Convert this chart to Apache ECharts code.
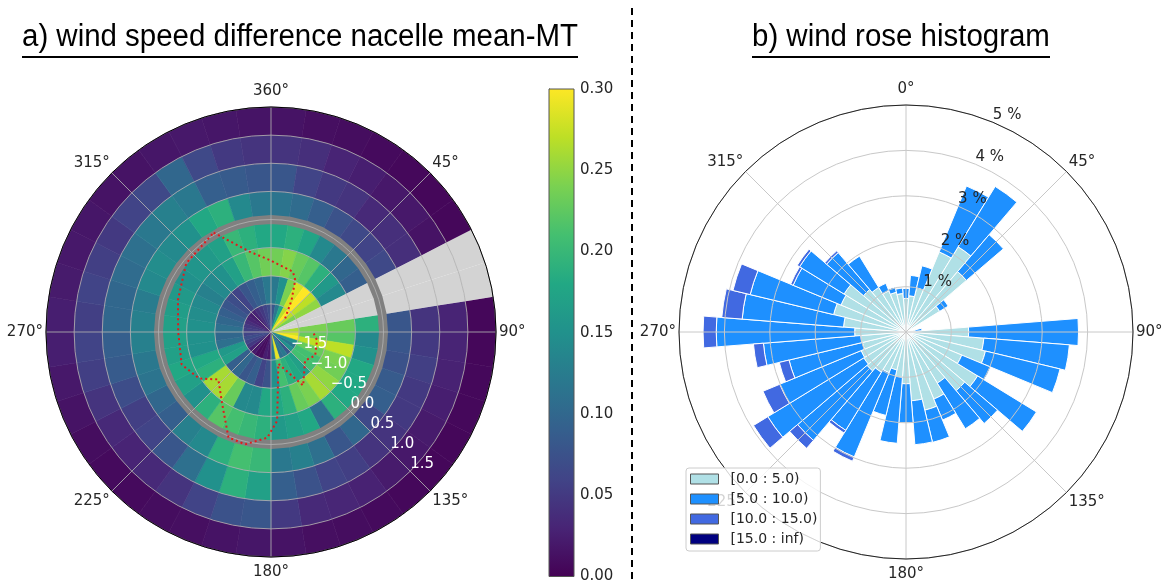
<!DOCTYPE html>
<html><head><meta charset="utf-8">
<script src="https://cdn.jsdelivr.net/npm/echarts@6/dist/echarts.min.js"></script>
<style>html,body{margin:0;padding:0;background:#fff}#c{width:1162px;height:584px}</style>
</head><body><div id="c"></div>
<script>
// ---------- data: panel a (polar heat map) ----------
const radialEdges = [-2, -1.5, -1, -0.5, 0, 0.5, 1, 1.5, 2];
const angleEdges = [0,9,18,27,36,45,54,63,72,81,90,99,108,117,126,135,144,153,162,171,180,189,198,207,216,225,234,243,252,261,270,279,288,297,306,315,324,333,342,351,360];
const ring0 = [0.08,0.12,0.18,0.27,0.30,0.27,0.24,null,null,0.26,0.28,0.30,0.15,0.12,0.15,0.08,0.12,0.11,0.29,0.12,0.02,0.025,0.01,0.01,0.02,0.03,0.05,0.06,0.07,0.06,0.055,0.05,0.04,0.03,0.025,0.03,0.04,0.05,0.06,0.07];
const ring1 = [0.12,0.15,0.24,0.28,0.30,0.27,0.25,null,null,0.24,0.23,0.27,0.23,0.21,0.21,0.17,0.18,0.19,0.21,0.15,0.075,0.06,0.09,0.08,0.10,0.09,0.17,0.16,0.11,0.10,0.11,0.10,0.09,0.08,0.07,0.06,0.08,0.09,0.10,0.12];
const ring2 = [0.235,0.245,0.23,0.22,0.19,0.16,0.14,null,null,0.23,0.22,0.27,0.24,0.235,0.25,0.26,0.24,0.23,0.19,0.18,0.18,0.14,0.14,0.23,0.26,0.26,0.19,0.18,0.15,0.15,0.15,0.145,0.14,0.13,0.14,0.15,0.17,0.20,0.22,0.235];
const ring3 = [0.18,0.19,0.175,0.14,0.12,0.10,0.09,null,null,0.19,0.14,0.15,0.18,0.18,0.18,0.19,0.11,0.18,0.17,0.16,0.19,0.20,0.21,0.22,0.19,0.15,0.17,0.18,0.17,0.17,0.17,0.165,0.16,0.15,0.155,0.16,0.17,0.20,0.19,0.18];
const ring4 = [0.115,0.105,0.09,0.075,0.065,0.06,0.065,null,null,0.08,0.08,0.075,0.085,0.09,0.065,0.10,0.08,0.11,0.13,0.12,0.20,0.21,0.19,0.14,0.13,0.09,0.10,0.115,0.12,0.13,0.13,0.125,0.14,0.145,0.14,0.15,0.18,0.19,0.14,0.12];
const ring5 = [0.08,0.06,0.05,0.045,0.035,0.04,0.04,null,null,0.045,0.05,0.055,0.05,0.05,0.045,0.045,0.055,0.06,0.075,0.09,0.17,0.19,0.15,0.11,0.08,0.06,0.055,0.07,0.085,0.09,0.10,0.10,0.105,0.11,0.12,0.13,0.12,0.09,0.085,0.08];
const ring6 = [0.045,0.04,0.03,0.025,0.02,0.02,0.015,null,null,0.03,0.03,0.028,0.025,0.022,0.02,0.022,0.028,0.032,0.035,0.05,0.08,0.075,0.06,0.045,0.035,0.03,0.035,0.045,0.055,0.06,0.055,0.06,0.055,0.05,0.06,0.065,0.10,0.065,0.05,0.045];
const ring7 = [0.015,0.012,0.01,0.008,0.006,0.005,0.005,null,null,0.005,0.005,0.006,0.006,0.005,0.005,0.006,0.008,0.01,0.012,0.015,0.018,0.015,0.012,0.01,0.008,0.008,0.01,0.015,0.02,0.025,0.025,0.022,0.02,0.018,0.015,0.015,0.018,0.02,0.018,0.016];
const rings = [ring0, ring1, ring2, ring3, ring4, ring5, ring6, ring7];
// red dotted contour (angle in degrees, radius in axis units); null = gap
const redTheta = [330,345,359,20,25,33,46,null,92,100,118,130,149,167,176,182,193,202,214,228,237,250,270,289,309,330];
const redR     = [0.04,-0.52,-0.72,-0.86,-0.98,-1.33,-1.65,null,-1.24,-1.17,-1.11,-1.21,-0.89,-1.42,-0.42,-0.12,0.05,0.02,-0.45,-0.74,-0.48,-0.31,-0.35,-0.25,-0.06,0.04];
const ringLevel = 0.0; // thick grey reference circle
const colorTicks = [0, 0.05, 0.10, 0.15, 0.20, 0.25, 0.30];

// ---------- data: panel b (wind rose, % per direction sector) ----------
const dirCenters = [0,9,18,27,36,45,54,63,72,81,90,99,108,117,126,135,144,153,162,171,180,189,198,207,216,225,234,243,252,261,270,279,288,297,306,315,324,333,342,351];
const ws0to5   = [0.74,0.80,1.00,1.91,2.20,1.75,0.87,0,0,0.20,1.38,1.72,1.80,1.33,1.85,1.70,1.32,1.60,1.77,1.52,1.14,1.00,0.86,0.97,1.04,1.13,1.09,1.07,0.99,1.00,1.13,1.38,1.64,1.55,1.60,1.23,1.15,0.98,0.90,0.85];
const ws5to10  = [0.22,0.45,0.50,1.57,1.56,1.07,0.22,0,0,0.15,2.42,1.89,1.69,0.69,1.52,0.95,1.18,0.50,0.73,0.97,0.86,1.46,1.03,2.01,1.50,2.01,2.48,1.94,1.66,2.15,3.05,2.24,1.89,1.14,1.15,1.07,0.81,0.18,0.12,0.12];
const ws10to15 = [0,0,0,0,0,0,0,0,0,0,0,0,0,0,0,0,0,0,0,0,0,0,0,0.10,0.07,0.23,0.37,0.40,0.22,0.22,0.29,0.45,0.39,0.06,0.06,0.05,0,0,0,0];
const ws15up   = [0,0,0,0,0,0,0,0,0,0,0,0,0,0,0,0,0,0,0,0,0,0,0,0,0,0,0,0,0,0,0,0,0,0,0,0,0,0,0,0];
const classNames = ['[0.0 : 5.0)', '[5.0 : 10.0)', '[10.0 : 15.0)', '[15.0 : inf)'];
const classValues = [ws0to5, ws5to10, ws10to15, ws15up];

// ---------- styles ----------
const viridis = ['#440154','#482475','#414487','#355f8d','#2a788e','#21918c','#22a884','#44bf70','#7ad151','#bddf26','#fde725'];
const classColors = ['#b0e0e6', '#1e90ff', '#4169e1', '#000080'];
const FONT = 'DejaVu Sans';
const SECTOR = 9;

// ---------- build series data ----------
const heatData = [], nanData = [];
rings.forEach((ring, k) => {
  ring.forEach((v, s) => {
    const item = [radialEdges[k], radialEdges[k + 1], angleEdges[s], angleEdges[s + 1], v];
    if (v === null) nanData.push(item.slice(0, 4)); else heatData.push(item);
  });
});
const redData = redTheta.map((t, i) => t === null ? ['-', '-'] : [redR[i], t]);
const ringData = angleEdges.map(a => [ringLevel, a]);

function sector(params, api, style) {
  const cs = params.coordSys;
  const cx = cs.cx, cy = cs.cy;
  const pA = api.coord([api.value(1), api.value(2)]);
  const pB = api.coord([api.value(1), api.value(3)]);
  const pC = api.coord([api.value(0), api.value(2)]);
  const R = Math.hypot(pA[0] - cx, pA[1] - cy);
  const R0 = Math.hypot(pC[0] - cx, pC[1] - cy);
  const s = Math.atan2(pA[1] - cy, pA[0] - cx);
  let e = Math.atan2(pB[1] - cy, pB[0] - cx);
  if (e <= s) e += Math.PI * 2;
  return { type: 'sector', shape: { cx, cy, r0: R0, r: R, startAngle: s, endAngle: e, clockwise: true }, style };
}

const roseSeries = classValues.map((vals, c) => {
  const data = vals.map((v, s) => {
    let base = 0;
    for (let j = 0; j < c; j++) base += classValues[j][s];
    const a0 = (dirCenters[s] - SECTOR / 2 + 360) % 360;
    const a1 = (dirCenters[s] + SECTOR / 2) % 360;
    return [base, base + v, a0, a1, v];
  }).filter(d => d[4] > 0);
  return {
    name: classNames[c], type: 'custom', coordinateSystem: 'polar', polarIndex: 2, z: 2,
    itemStyle: { color: classColors[c] },
    data,
    renderItem: (p, api) => sector(p, api, { fill: classColors[c], stroke: '#fff', lineWidth: 1 })
  };
});

const chart = echarts.init(document.getElementById('c'), null, { renderer: 'canvas' });
const lbl = { fontFamily: FONT, fontSize: 15, color: '#262626' };
const richBase = { fontFamily: FONT, fontSize: 15, color: '#262626' };
const angLbl = { fontFamily: FONT, fontSize: 15, color: '#262626', margin: 3,
  rich: { n: richBase, up: Object.assign({ padding: [0, 0, 5, 0] }, richBase), dn: Object.assign({ padding: [5, 0, 0, 0] }, richBase) } };
const angText = (v, shown) => {
  const key = (v === 0 || v === 360) ? 'up' : (v === 180 ? 'dn' : 'n');
  return '{' + key + '|' + shown + '°}';
};
const gridCol = 'rgba(176,176,176,0.85)';

const option = {
  animation: false,
  backgroundColor: '#fff',
  polar: [
    { center: [271, 332], radius: 225 },
    { center: [271, 332], radius: 225 },
    { center: [906, 332], radius: 227 },
    { center: [906, 332], radius: 227 }
  ],
  angleAxis: [
    { polarIndex: 0, type: 'value', min: 0, max: 360, interval: 45, startAngle: 90, clockwise: true, z: 5,
      axisLine: { show: true, lineStyle: { color: '#000', width: 1 } }, axisTick: { show: false },
      splitLine: { show: true, lineStyle: { color: gridCol, width: 1 } },
      axisLabel: Object.assign({ formatter: v => angText(v, v === 0 ? 360 : v) }, angLbl) },
    { polarIndex: 1, type: 'value', min: 0, max: 360, startAngle: -45, clockwise: true, show: false },
    { polarIndex: 2, type: 'value', min: 0, max: 360, interval: 45, startAngle: 90, clockwise: true, z: 5,
      axisLine: { show: true, lineStyle: { color: '#222', width: 1 } }, axisTick: { show: false },
      splitLine: { show: true, lineStyle: { color: '#c8c8c8', width: 1 } },
      axisLabel: Object.assign({ formatter: v => angText(v, v === 360 ? 0 : v) }, angLbl) },
    { polarIndex: 3, type: 'value', min: 0, max: 360, startAngle: 67.5, clockwise: true, show: false }
  ],
  radiusAxis: [
    { polarIndex: 0, type: 'value', min: -2, max: 2, interval: 0.5, z: 5,
      axisLine: { show: false }, axisTick: { show: false }, axisLabel: { show: false },
      splitLine: { show: true, lineStyle: { color: gridCol, width: 1 } } },
    { polarIndex: 1, type: 'value', min: -2, max: 2, interval: 0.5, z: 7,
      axisLine: { show: false }, axisTick: { show: false }, splitLine: { show: false },
      axisLabel: { show: true, showMinLabel: false, showMaxLabel: false, margin: 0, align: 'left', verticalAlign: 'bottom',
        fontFamily: FONT, fontSize: 15, color: '#fff',
        formatter: v => (v < 0 ? '\u2212' : '') + Math.abs(v).toFixed(1) } },
    { polarIndex: 2, type: 'value', min: 0, max: 5, interval: 1, z: 5,
      axisLine: { show: false }, axisTick: { show: false }, axisLabel: { show: false },
      splitLine: { show: true, lineStyle: { color: '#c8c8c8', width: 1 } } },
    { polarIndex: 3, type: 'value', min: 0, max: 5, interval: 1, z: 7,
      axisLine: { show: false }, axisTick: { show: false }, splitLine: { show: false },
      axisLabel: Object.assign({ show: true, showMinLabel: false, margin: 0, align: 'left', verticalAlign: 'bottom',
        formatter: v => v + ' %' }, lbl) }
  ],
  grid: [{ left: 549, top: 89, width: 25, height: 488 }],
  xAxis: [{ gridIndex: 0, type: 'value', min: 0, max: 1, show: false }],
  yAxis: [{ gridIndex: 0, type: 'value', min: colorTicks[0], max: colorTicks[colorTicks.length - 1], interval: 0.05, position: 'right',
    axisLine: { show: true, lineStyle: { color: '#333', width: 1 } },
    axisTick: { show: true, length: 4, lineStyle: { color: '#333' } },
    splitLine: { show: false },
    axisLabel: Object.assign({ margin: 6, formatter: v => v.toFixed(2) }, lbl) }],
  visualMap: [{ show: false, type: 'continuous', seriesIndex: 0, dimension: 4, min: 0, max: 0.3, inRange: { color: viridis } }],
  legend: {
    orient: 'vertical', left: 686, top: 468, z: 20,
    itemWidth: 28, itemHeight: 10, itemGap: 6, icon: 'rect',
    padding: [4, 3, 5, 4], backgroundColor: 'rgba(255,255,255,0.8)', borderColor: '#cccccc', borderWidth: 1, borderRadius: 3,
    textStyle: { fontFamily: FONT, fontSize: 14, color: '#262626', padding: [0, 0, 0, 7] },
    data: classNames.map(n => ({ name: n, itemStyle: { borderColor: '#555', borderWidth: 1 } }))
  },
  graphic: [
    { type: 'text', x: 22, y: 37, scaleX: 0.95, style: { text: 'a) wind speed difference nacelle mean-MT', font: '31px "Liberation Sans"', fill: '#000', textVerticalAlign: 'middle' } },
    { type: 'line', shape: { x1: 22, y1: 57, x2: 578, y2: 57 }, style: { stroke: '#000', lineWidth: 2 } },
    { type: 'text', x: 752, y: 37, scaleX: 0.95, style: { text: 'b) wind rose histogram', font: '31px "Liberation Sans"', fill: '#000', textVerticalAlign: 'middle' } },
    { type: 'line', shape: { x1: 752, y1: 57, x2: 1050, y2: 57 }, style: { stroke: '#000', lineWidth: 2 } },
    { type: 'line', shape: { x1: 632, y1: 8, x2: 632, y2: 584 }, style: { stroke: '#000', lineWidth: 2, lineDash: [7, 5] } }
  ],
  series: [
    { type: 'custom', coordinateSystem: 'polar', polarIndex: 0, z: 1, data: heatData,
      renderItem: (p, api) => sector(p, api, { fill: api.visual('color'), stroke: api.visual('color'), lineWidth: 0.6 }) },
    { type: 'custom', coordinateSystem: 'polar', polarIndex: 0, z: 1, data: nanData,
      renderItem: (p, api) => sector(p, api, { fill: '#d3d3d3' }) },
    { type: 'line', coordinateSystem: 'polar', polarIndex: 0, z: 3, data: ringData, symbol: 'none', silent: true,
      lineStyle: { color: '#808080', width: 9 } },
    { type: 'line', coordinateSystem: 'polar', polarIndex: 0, z: 8, data: redData, symbol: 'none', silent: true, connectNulls: false,
      lineStyle: { color: '#e31a1c', width: 2, type: [2, 3] } },
    { type: 'custom', xAxisIndex: 0, yAxisIndex: 0, z: 2, data: [[0, colorTicks[0], 1, colorTicks[colorTicks.length - 1]]],
      renderItem: (p, api) => {
        const a = api.coord([api.value(0), api.value(1)]);
        const b = api.coord([api.value(2), api.value(3)]);
        return { type: 'rect', shape: { x: a[0], y: b[1], width: b[0] - a[0], height: a[1] - b[1] },
          style: { stroke: '#555', lineWidth: 1, fill: { type: 'linear', x: 0, y: 0, x2: 0, y2: 1,
            colorStops: viridis.map((c, i) => ({ offset: i / (viridis.length - 1), color: viridis[viridis.length - 1 - i] })) } } };
      } }
  ].concat(roseSeries)
};
chart.setOption(option);
</script>
</body></html>
